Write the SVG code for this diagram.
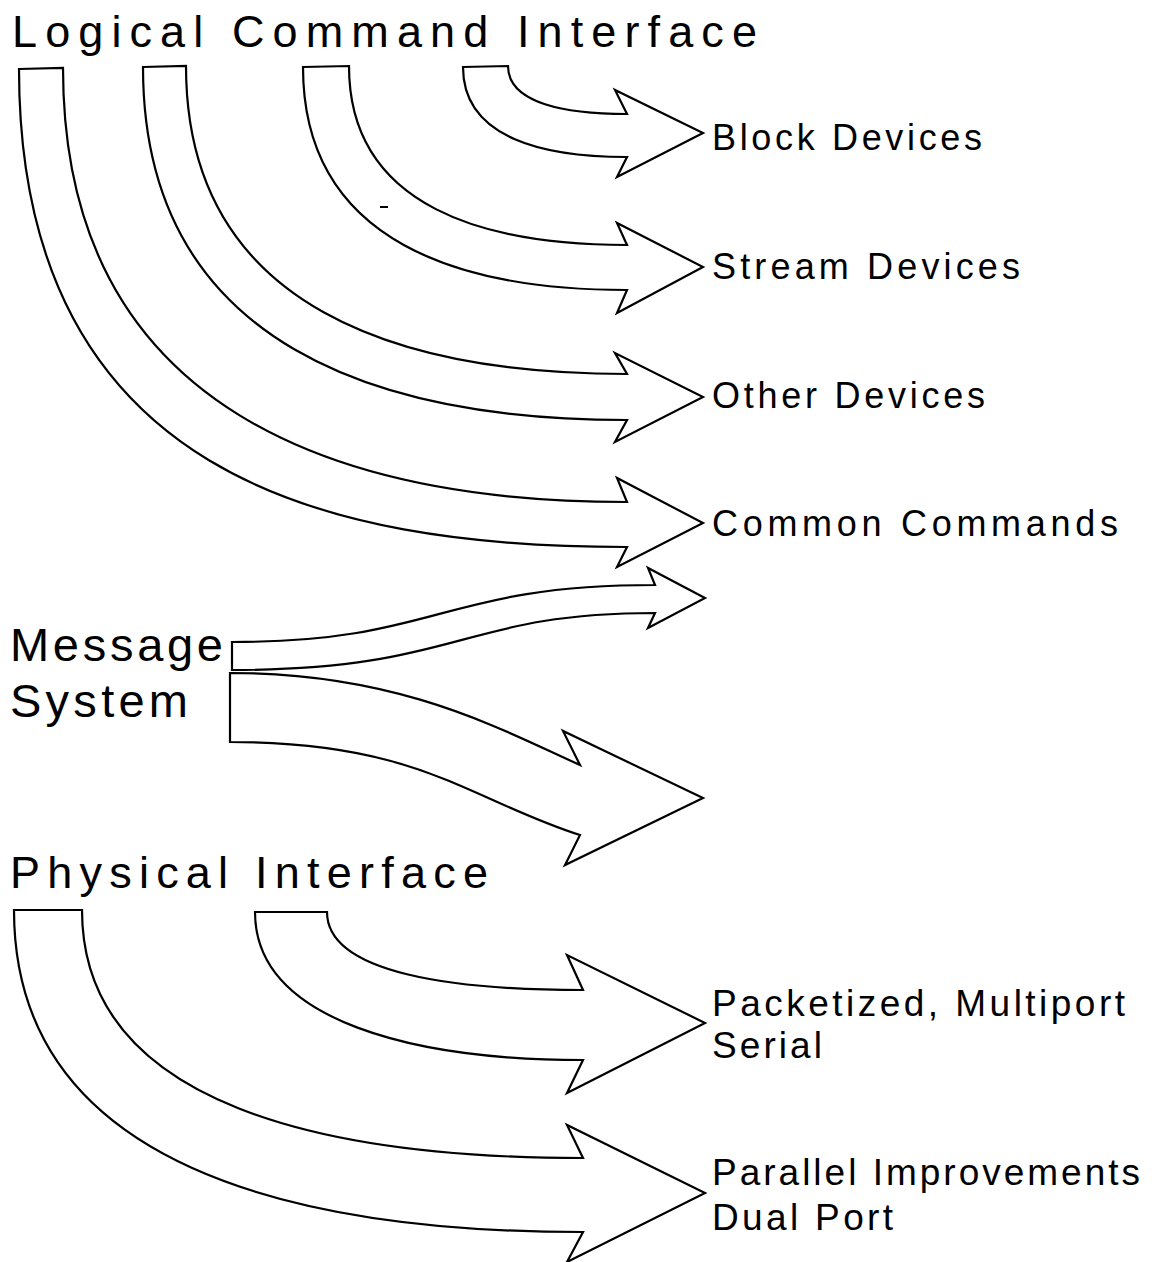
<svg xmlns="http://www.w3.org/2000/svg" width="1152" height="1262" viewBox="0 0 1152 1262">
<style>
.arr{fill:#fff;stroke:#000;stroke-width:2.2;stroke-linejoin:miter}
.t{font-family:"Liberation Sans",Arial,sans-serif;fill:#000}
.h{font-size:45px}
.m{font-size:47px}
.l{font-size:36px}
.p{font-size:37px}
</style>
<rect width="1152" height="1262" fill="#fff"/>
<g id="connectors">
<path id="arrow-block" class="arr" d="M463,67 L508,66 C508,104 567,114 627,114 L615,90 L703,133 L617,177 L627,157 C545,157 463,139 463,67 Z"/>
<path id="arrow-stream" class="arr" d="M303,67 L349,66 C349,209 488,245 627,245 L617,223 L703,267 L617,313 L627,290 C465,290 303,245 303,67 Z"/>
<path id="arrow-other" class="arr" d="M143,67 L186,66 C186,312 406,374 627,374 L615,353 L703,397 L615,442 L627,420 C385,420 143,349 143,67 Z"/>
<path id="arrow-common" class="arr" d="M19,69 L63,68 C63,415 345,502 627,502 L617,478 L703,523 L617,567 L627,547 C323,547 19,475 19,69 Z"/>
<path id="arrow-msg-upper" class="arr" d="M232,670 L232,642 C440,642 440,585 655,585 L648,568 L705,598 L648,628 L655,613 C460,613 460,670 232,670 Z"/>
<path id="arrow-msg-lower" class="arr" d="M230,673 C400,673 500,729 580,765 L563,731 L703,798 L565,865 L580,835 C470,800 420,742 230,742 Z"/>
<path id="arrow-packetized" class="arr" d="M255,912 L327,912 C327,974 455,990 583,990 L567,955 L705,1023 L567,1093 L583,1060 C419,1060 255,1023 255,912 Z"/>
<path id="arrow-parallel" class="arr" d="M14,910 L82,910 C82,1108 332,1158 583,1158 L567,1125 L705,1193 L567,1262 L583,1232 C298,1232 14,1168 14,910 Z"/>
<line x1="380" y1="207" x2="388" y2="207" stroke="#000" stroke-width="2"/>
</g>
<g id="logical-command-interface"><text class="t h" x="12" y="47" textLength="745" lengthAdjust="spacing">Logical Command Interface</text></g>
<g id="block-devices"><text class="t l" x="712" y="150" textLength="270" lengthAdjust="spacing">Block Devices</text></g>
<g id="stream-devices"><text class="t l" x="712" y="279" textLength="308" lengthAdjust="spacing">Stream Devices</text></g>
<g id="other-devices"><text class="t l" x="712" y="408" textLength="273" lengthAdjust="spacing">Other Devices</text></g>
<g id="common-commands"><text class="t l" x="712" y="536" textLength="406" lengthAdjust="spacing">Common Commands</text></g>
<g id="message-system">
<text class="t m" x="10" y="661" textLength="213" lengthAdjust="spacing">Message</text>
<text class="t m" x="10" y="717" textLength="178" lengthAdjust="spacing">System</text>
</g>
<g id="physical-interface"><text class="t h" x="10" y="888" textLength="478" lengthAdjust="spacing">Physical Interface</text></g>
<g id="packetized-serial">
<text class="t p" x="712" y="1016" textLength="413" lengthAdjust="spacing">Packetized, Multiport</text>
<text class="t p" x="712" y="1058" textLength="110" lengthAdjust="spacing">Serial</text>
</g>
<g id="parallel-dual">
<text class="t p" x="712" y="1185" textLength="428" lengthAdjust="spacing">Parallel Improvements</text>
<text class="t p" x="712" y="1230" textLength="181" lengthAdjust="spacing">Dual Port</text>
</g>
</svg>
